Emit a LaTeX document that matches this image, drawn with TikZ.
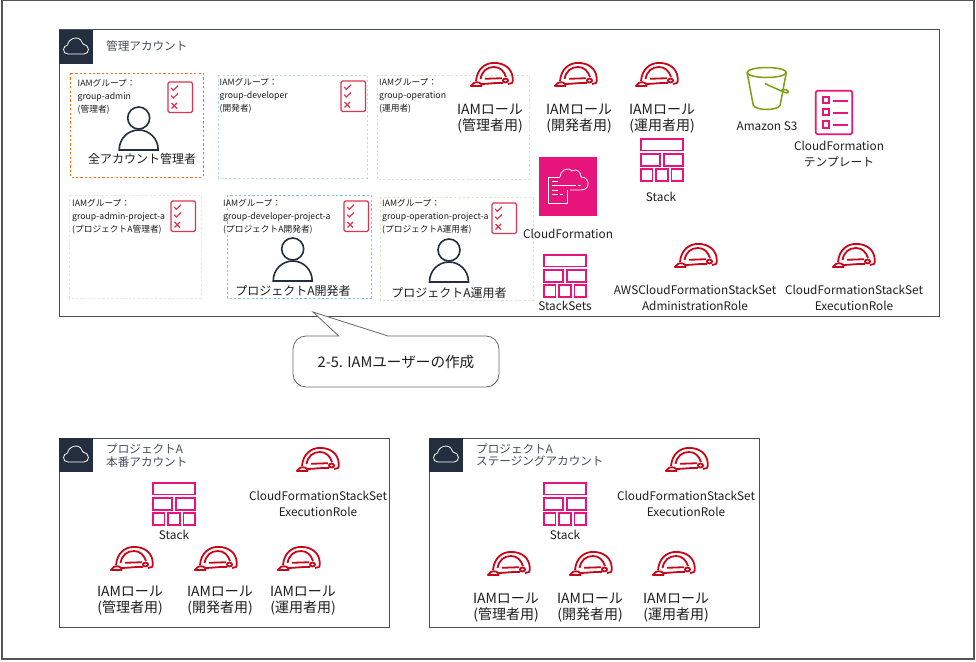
\documentclass[tikz,border=0pt]{standalone}
\usepackage{fontspec}
\setmainfont{Noto Sans CJK JP}
\usepackage{tikz}
\definecolor{mframe}{HTML}{555555}
\definecolor{mnavy}{HTML}{232F3E}
\definecolor{maccount}{HTML}{44505F}
\definecolor{mred}{HTML}{C8071A}
\definecolor{mcheck}{HTML}{DD344C}
\definecolor{mpink}{HTML}{E7157B}
\definecolor{mgreen}{HTML}{7AA116}
\definecolor{mtext}{HTML}{1E1E1E}
\definecolor{morange}{HTML}{FF6A13}
\definecolor{mlblue}{HTML}{B5DDFB}
\definecolor{mblue}{HTML}{7FBEEE}
\definecolor{mlgreen}{HTML}{D7E9C4}
\definecolor{mlpink}{HTML}{FFD9E4}
\tikzset{
  account/.style = {draw=maccount, line width=1},
  groupbox/.style = {line width=1, dash pattern=on 2.2 off 2.2},
  grouptext/.style = {anchor=west, align=left, inner sep=0, text=mtext, font=\fontsize{8.7}{13}\selectfont},
  rolelabel/.style = {align=center, inner sep=0, text=mtext, font=\fontsize{14}{16}\selectfont},
  iconlabel/.style = {align=center, inner sep=0, text=mtext, font=\fontsize{11.8}{16}\selectfont},
  userlabel/.style = {inner sep=0, text=mtext, font=\fontsize{12}{14}\selectfont},
  title/.style = {anchor=west, align=left, inner sep=0, text=mnavy!85, font=\fontsize{11.6}{12.5}\selectfont},
  callout/.style = {draw=black!60, fill=white, line width=0.8},
  % all the icons start at their top left corner
  header/.pic = {
    \fill [mnavy] (0, 0) rectangle (34, 34);
    \draw [white, line width=0.8] (9, 24) .. controls (6, 24) and (4.5, 22) .. (4.5, 19.5)
      .. controls (4.5, 17) and (6.5, 15.5) .. (8.5, 15) .. controls (9, 11) and (13, 8) .. (17, 8)
      .. controls (21, 8) and (23, 11) .. (24, 14) .. controls (27, 14.5) and (29.5, 16.5) .. (29.5, 19.5)
      .. controls (29.5, 22) and (27.5, 24) .. (25, 24) -- cycle;
  },
  hat/.pic = {
    \begin{scope}[mred, line width=1.8, line join=round]
      \draw (6, 19) .. controls (7, 7) and (15, 0.9) .. (24, 0.9) .. controls (35, 0.9) and (42, 7) .. (42.7, 16)
        .. controls (43, 18) and (43, 20) .. (42, 21) -- (38, 22);
      \draw (10.5, 17) .. controls (12, 9) and (17, 5) .. (24, 5) .. controls (30, 5) and (34, 9) .. (36, 15);
      \draw (0.9, 24) .. controls (2, 21.5) and (5, 19.5) .. (9, 20.5) .. controls (11, 21) and (12, 23) .. (11.5, 24) -- cycle;
      \draw (15, 16.8) -- (32, 16.2);
      \draw (11, 22) .. controls (18, 22) and (26, 20.5) .. (33, 21);
      \draw (35.5, 18.5) ellipse (2.6 and 1.9);
    \end{scope}
  },
  checks/.pic = {
    \begin{scope}[mcheck, line width=1.2]
      \draw [rounded corners=1.5] (0, 0) rectangle (24.5, 30.5);
      \draw (3.2, 6) -- (5.3, 8.3) -- (10, 3.8);
      \draw (3.2, 13.7) -- (5.3, 16) -- (10, 11.5);
      \draw (3.5, 21) -- (9, 26.5);
      \draw (9, 21) -- (3.5, 26.5);
    \end{scope}
  },
  person/.pic = {
    \begin{scope}[mnavy, line width=1.6]
      \draw (0, 0) circle (11);
      \draw (-19.5, 32) .. controls (-19.5, 20) and (-10, 12) .. (0, 12) .. controls (10, 12) and (19.5, 20) .. (19.5, 32) -- cycle;
    \end{scope}
  },
  stack/.pic = {
    \begin{scope}[mpink, line width=1.6]
      \draw (0.8, 0.8) rectangle (43.2, 12.5);
      \draw (0.8, 15.8) rectangle (20.2, 27.8);
      \draw (23.8, 15.8) rectangle (43.2, 27.8);
      \draw (0.8, 31) rectangle (12.5, 43.2);
      \draw (16, 31) rectangle (28, 43.2);
      \draw (31.5, 31) rectangle (43.2, 43.2);
    \end{scope}
  },
}

\begin{document}
\begin{tikzpicture}[x=1pt, y=-1pt]
  \useasboundingbox (0, 0) rectangle (976, 661);
  \fill [white] (0, 0) rectangle (976, 661);
  \draw [mframe, line width=2] (1.5, 0.5) rectangle (974, 659);

  % management account
  \draw [account] (59, 30) rectangle (939, 316);
  \pic at (59, 30) {header};
  \node [title] (maintitle) at (106, 46) {管理アカウント};

  \draw [groupbox, morange] (70, 73) rectangle (203, 177);
  \draw [groupbox, mlblue] (218, 75) rectangle (367, 178);
  \draw [groupbox, mlgreen] (377, 75) rectangle (529, 179);
  \draw [groupbox, mlpink] (69, 195) rectangle (201, 298);
  \draw [groupbox, mblue] (227, 195) rectangle (371, 298);
  \draw [groupbox, mlgreen] (380, 197) rectangle (533, 300);

  \node [grouptext] (groupadmin) at (77.5, 96.5) {IAMグループ：\\group-admin\\(管理者)};
  \node [grouptext] (groupdev) at (219.5, 95.5) {IAMグループ：\\group-developer\\(開発者)};
  \node [grouptext] (groupope) at (379, 95.5) {IAMグループ：\\group-operation\\(運用者)};
  \node [grouptext] (groupadmina) at (72, 216.5) {IAMグループ：\\group-admin-project-a\\(プロジェクトA管理者)};
  \node [grouptext] (groupdeva) at (223, 216.5) {IAMグループ：\\group-developer-project-a\\(プロジェクトA開発者)};
  \node [grouptext] (groupopea) at (382, 217) {IAMグループ：\\group-operation-project-a\\(プロジェクトA運用者)};

  \pic at (168, 82) {checks};
  \pic at (341, 81) {checks};
  \pic at (171, 201) {checks};
  \pic at (344, 201) {checks};
  \pic at (492, 203) {checks};

  \pic at (138.7, 118) {person};
  \pic at (292.7, 249) {person};
  \pic at (449, 250) {person};
  \node [userlabel] (useradmin) at (142, 159) {全アカウント管理者};
  \node [userlabel] (userdev) at (293, 291) {プロジェクトA開発者};
  \node [userlabel] (userope) at (449, 293) {プロジェクトA運用者};

  \pic at (470, 62) {hat};
  \pic at (554, 62) {hat};
  \pic at (635, 62) {hat};
  \node [rolelabel] (roleadmin) at (490, 118.5) {IAMロール\\(管理者用)};
  \node [rolelabel] (roledev) at (579, 118.5) {IAMロール\\(開発者用)};
  \node [rolelabel] (roleope) at (662, 118.5) {IAMロール\\(運用者用)};

  % cloudformation square
  \fill [mpink] (539, 157) rectangle (597, 216);
  \begin{scope}[shift={(539, 157)}, white, line width=0.8]
    \draw (21, 20) -- (9, 20) -- (9, 46.5) -- (28, 46.5) -- (28, 33);
    \draw (21, 20) .. controls (21, 14) and (28, 9) .. (33, 14) .. controls (38, 11) and (42, 15) .. (42, 20)
      .. controls (47, 20) and (50, 24) .. (49, 28) .. controls (48, 32) and (45, 33) .. (42, 33) -- (31, 33);
    \draw (13, 24) -- (19, 24);
    \draw (13, 28.5) -- (37, 28.5);
    \draw (39, 28.5) -- (42, 28.5);
    \draw (13, 33) -- (19, 33);
    \draw (13, 37.5) -- (19, 37.5);
    \draw (21, 37.5) -- (24, 37.5);
  \end{scope}
  \node [iconlabel] (cflabel) at (568, 234) {CloudFormation};

  \pic at (640, 138) {stack};
  \node [iconlabel] (stacklabel) at (661, 197) {Stack};
  \pic at (543, 254) {stack};
  \node [iconlabel] (stacksetslabel) at (565, 306) {StackSets};

  % bucket
  \begin{scope}[shift={(746.7, 67)}, mgreen, line width=1.5]
    \draw (20, 5.5) ellipse (19.5 and 5);
    \draw (0.5, 6) -- (6.5, 38) .. controls (9, 44) and (31, 44) .. (33.5, 38) -- (39.5, 6);
    \draw (19, 17) -- (37, 25) .. controls (42, 27) and (43, 25) .. (40, 23) .. controls (38, 22) and (35, 22) .. (34, 24);
    \fill (19, 17) circle (1.2);
  \end{scope}
  \node [iconlabel] (s3label) at (767, 126) {Amazon S3};

  % template
  \begin{scope}[shift={(815.7, 90.7)}, mpink, line width=1.6]
    \draw [rounded corners=1.5] (0, 0) rectangle (36.5, 43.5);
    \draw (7, 6) rectangle (13.5, 12);
    \draw (7, 18.5) rectangle (13.5, 24.5);
    \draw (7, 30.5) rectangle (13.5, 37);
    \draw (17, 10) -- (32, 10);
    \draw (17, 22) -- (32, 22);
    \draw (17, 34.5) -- (32, 34.5);
  \end{scope}
  \node [iconlabel] (templatelabel) at (839, 154) {CloudFormation\\テンプレート};

  \pic at (674, 243) {hat};
  \pic at (832, 243) {hat};
  \node [iconlabel] (adminrole) at (695, 297.5) {AWSCloudFormationStackSet\\AdministrationRole};
  \node [iconlabel] (execrole) at (854, 297.5) {CloudFormationStackSet\\ExecutionRole};

  % callout
  \draw [callout] (338.7, 336) -- (313, 312) -- (388, 336) [rounded corners=13] -- (499, 336) -- (499, 387)
    -- (293, 387) -- (293, 336) [sharp corners] -- cycle;
  \node [inner sep=0, text=mtext, font=\fontsize{14.6}{16}\selectfont] (calloutlabel) at (396, 362) {2-5. IAMユーザーの作成};

  % production account
  \draw [account] (59, 438) rectangle (389, 627);
  \pic at (59, 438) {header};
  \node [title] (prodtitle) at (106, 455.5) {プロジェクトA\\本番アカウント};
  \pic at (152, 482) {stack};
  \node [iconlabel] (prodstack) at (174, 535) {Stack};
  \pic at (296, 447) {hat};
  \node [iconlabel] (prodexec) at (318, 504) {CloudFormationStackSet\\ExecutionRole};
  \pic at (110, 546) {hat};
  \pic at (194, 546) {hat};
  \pic at (277, 546) {hat};
  \node [rolelabel] (prodadmin) at (130, 601) {IAMロール\\(管理者用)};
  \node [rolelabel] (proddev) at (220, 601) {IAMロール\\(開発者用)};
  \node [rolelabel] (prodope) at (303, 601) {IAMロール\\(運用者用)};

  % staging account
  \draw [account] (429, 438) rectangle (759, 627);
  \pic at (429, 438) {header};
  \node [title] (stagetitle) at (476, 455) {プロジェクトA\\ステージングアカウント};
  \pic at (543, 482) {stack};
  \node [iconlabel] (stagestack) at (565, 535) {Stack};
  \pic at (665, 447) {hat};
  \node [iconlabel] (stageexec) at (686, 503.5) {CloudFormationStackSet\\ExecutionRole};
  \pic at (487, 551) {hat};
  \pic at (569, 551) {hat};
  \pic at (652, 551) {hat};
  \node [rolelabel] (stageadmin) at (506, 607.5) {IAMロール\\(管理者用)};
  \node [rolelabel] (stagedev) at (590, 607.5) {IAMロール\\(開発者用)};
  \node [rolelabel] (stageope) at (676, 607.5) {IAMロール\\(運用者用)};
\end{tikzpicture}
\end{document}
